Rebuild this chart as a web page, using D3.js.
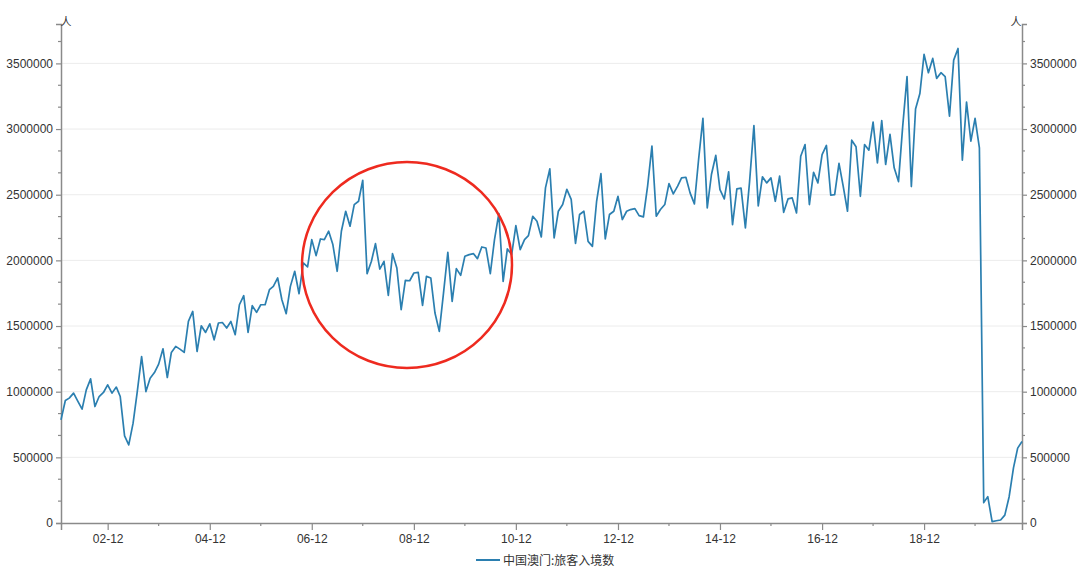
<!DOCTYPE html>
<html><head><meta charset="utf-8">
<script src="https://cdn.jsdelivr.net/npm/d3@7"></script>
<style>
html,body{margin:0;padding:0;background:#fff;}
svg{display:block;font-family:"Noto Sans CJK SC","Noto Sans",sans-serif;}
</style></head>
<body>
<svg id="chart" width="1080" height="572"></svg>
<script>
// ---- data ----
const seriesName = "中国澳门:旅客入境数";
const unitLabel = "人";
const startMonth = "2002-01";
const visitors = [
785000,933000,951000,989000,928000,867000,1014000,1098000,887000,963000,994000,1052000,
989000,1035000,963000,663000,595000,760000,1001000,1268000,1001000,1103000,1146000,1210000,
1327000,1108000,1299000,1345000,1324000,1299000,1535000,1611000,1306000,1502000,1451000,1517000,
1395000,1523000,1527000,1485000,1535000,1434000,1662000,1731000,1451000,1655000,1604000,1662000,
1662000,1777000,1802000,1866000,1700000,1594000,1802000,1917000,1746000,1980000,1950000,2158000,
2036000,2163000,2158000,2222000,2120000,1917000,2222000,2374000,2260000,2425000,2450000,2610000,
1899000,1993000,2127000,1934000,1993000,1733000,2051000,1942000,1624000,1848000,1845000,1904000,
1909000,1657000,1878000,1866000,1599000,1459000,1751000,2061000,1688000,1937000,1886000,2031000,
2044000,2051000,2013000,2102000,2094000,1899000,2158000,2356000,1840000,2087000,2044000,2265000,
2082000,2158000,2188000,2336000,2298000,2178000,2552000,2697000,2171000,2374000,2425000,2541000,
2465000,2130000,2349000,2374000,2145000,2107000,2450000,2660000,2163000,2349000,2374000,2488000,
2311000,2374000,2387000,2394000,2341000,2331000,2565000,2870000,2336000,2387000,2425000,2585000,
2506000,2565000,2628000,2633000,2514000,2430000,2768000,3081000,2400000,2654000,2799000,2539000,
2468000,2674000,2272000,2544000,2550000,2247000,2600000,3027000,2415000,2636000,2590000,2628000,
2450000,2641000,2366000,2468000,2476000,2361000,2793000,2882000,2425000,2671000,2590000,2806000,
2875000,2496000,2501000,2738000,2565000,2374000,2915000,2865000,2488000,2882000,2839000,3053000,
2743000,3064000,2730000,2959000,2705000,2600000,3020000,3399000,2562000,3152000,3270000,3569000,
3429000,3538000,3386000,3429000,3399000,3098000,3525000,3614000,2763000,3205000,2908000,3081000,
2857000,155000,201000,11000,17000,23000,60000,200000,420000,570000,620000
];
const yTickValues = [0,500000,1000000,1500000,2000000,2500000,3000000,3500000];
const xTickLabels = ["02-12","04-12","06-12","08-12","10-12","12-12","14-12","16-12","18-12"];
const xMinorLabels = ["03-12","05-12","07-12","09-12","11-12","13-12","15-12","17-12","19-12"];
const yMax = 3800000;

// ---- layout ----
const L = 61, R = 1022, T = 24, B = 523;
const lineColor = "#2b7fb0";
const axisColor = "#8a8a8a";
const textColor = "#333";

const parseMonth = d3.timeParse("%Y-%m");
const parseTick = d3.timeParse("%y-%m");
const t0 = parseMonth(startMonth);
const data = visitors.map((v,i)=>({date:d3.timeMonth.offset(t0,i), value:v}));

const svg = d3.select("#chart");
const x = d3.scaleTime().domain(d3.extent(data,d=>d.date)).range([L,R]);
const y = d3.scaleLinear().domain([0,yMax]).range([B,T]);

// gridlines
svg.append("g").selectAll("line").data(yTickValues.filter(v=>v>0)).join("line")
  .attr("x1",L).attr("x2",R).attr("y1",d=>y(d)).attr("y2",d=>y(d))
  .attr("stroke","#ececec").attr("stroke-width",1);

// minor y ticks (thirds)
const minorY = [];
for (let v=0; v<=yMax; v+=500000/3) { const r=Math.round(v); if (r%500000!==0) minorY.push(r); }

function styleAxis(g){
  g.select(".domain").attr("stroke",axisColor).attr("stroke-width",1.5);
  g.selectAll(".tick line").attr("stroke",axisColor).attr("stroke-width",1.2);
  g.selectAll(".tick text").attr("fill",textColor).style("font-size","12px");
}

// left axis
const gl = svg.append("g").attr("transform",`translate(${L},0)`)
  .call(d3.axisLeft(y).tickValues(yTickValues).tickFormat(d3.format("d")).tickSizeOuter(0).tickSize(5).tickPadding(3));
styleAxis(gl);
gl.append("g").selectAll("line").data(minorY).join("line")
  .attr("x1",0).attr("x2",-3).attr("y1",d=>y(d)).attr("y2",d=>y(d)).attr("stroke",axisColor).attr("stroke-width",1.2);

// right axis
const gr = svg.append("g").attr("transform",`translate(${R},0)`)
  .call(d3.axisRight(y).tickValues(yTickValues).tickFormat(d3.format("d")).tickSizeOuter(0).tickSize(5).tickPadding(3));
styleAxis(gr);
gr.append("g").selectAll("line").data(minorY).join("line")
  .attr("x1",0).attr("x2",3).attr("y1",d=>y(d)).attr("y2",d=>y(d)).attr("stroke",axisColor).attr("stroke-width",1.2);

// bottom axis
const fmt = d3.timeFormat("%y-%m");
const gx = svg.append("g").attr("transform",`translate(0,${B})`)
  .call(d3.axisBottom(x).tickValues(xTickLabels.map(parseTick)).tickFormat(fmt).tickSizeOuter(0).tickSize(7).tickPadding(4));
styleAxis(gx);
gx.append("g").selectAll("line").data(xMinorLabels.map(parseTick)).join("line")
  .attr("x1",d=>x(d)).attr("x2",d=>x(d)).attr("y1",0).attr("y2",3).attr("stroke",axisColor).attr("stroke-width",1.2);

// unit labels
svg.append("text").attr("x",L+5).attr("y",T+2).attr("text-anchor","middle").attr("fill",textColor).style("font-size","11px").text(unitLabel);
svg.append("text").attr("x",R-6).attr("y",T+2).attr("text-anchor","middle").attr("fill",textColor).style("font-size","11px").text(unitLabel);

// line
svg.append("path").datum(data)
  .attr("fill","none").attr("stroke",lineColor).attr("stroke-width",1.7).attr("stroke-linejoin","round")
  .attr("d",d3.line().x(d=>x(d.date)).y(d=>y(d.value)));

// red circle annotation
svg.append("ellipse").attr("cx",407).attr("cy",265).attr("rx",105).attr("ry",103)
  .attr("fill","none").attr("stroke","#ee2a1f").attr("stroke-width",2.5);

// legend
const lg = svg.append("g");
lg.append("line").attr("x1",476).attr("x2",500).attr("y1",560).attr("y2",560).attr("stroke",lineColor).attr("stroke-width",2);
lg.append("text").attr("x",503).attr("y",564.5).attr("fill",textColor).style("font-size","12px").text(seriesName);
</script>
</body></html>
